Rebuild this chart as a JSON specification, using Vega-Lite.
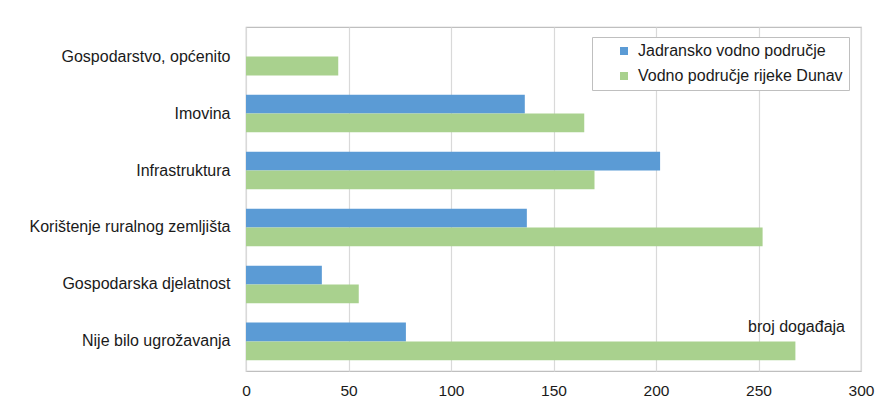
{
  "$schema": "https://vega.github.io/schema/vega-lite/v6.json",
  "width": 615,
  "height": 344,
  "autosize": {"type": "none"},
  "padding": {"left": 246, "top": 27, "right": 24, "bottom": 42},
  "background": "white",
  "config": {
    "font": "Liberation Sans",
    "view": {"stroke": "#bfbfbf", "strokeWidth": 1.2}
  },
  "data": {
    "values": [
      {"kategorija": "Gospodarstvo, općenito", "podrucje": "Vodno područje rijeke Dunav", "broj": 45},
      {"kategorija": "Imovina", "podrucje": "Jadransko vodno područje", "broj": 136},
      {"kategorija": "Imovina", "podrucje": "Vodno područje rijeke Dunav", "broj": 165},
      {"kategorija": "Infrastruktura", "podrucje": "Jadransko vodno područje", "broj": 202},
      {"kategorija": "Infrastruktura", "podrucje": "Vodno područje rijeke Dunav", "broj": 170},
      {"kategorija": "Korištenje ruralnog zemljišta", "podrucje": "Jadransko vodno područje", "broj": 137},
      {"kategorija": "Korištenje ruralnog zemljišta", "podrucje": "Vodno područje rijeke Dunav", "broj": 252},
      {"kategorija": "Gospodarska djelatnost", "podrucje": "Jadransko vodno područje", "broj": 37},
      {"kategorija": "Gospodarska djelatnost", "podrucje": "Vodno područje rijeke Dunav", "broj": 55},
      {"kategorija": "Nije bilo ugrožavanja", "podrucje": "Jadransko vodno područje", "broj": 78},
      {"kategorija": "Nije bilo ugrožavanja", "podrucje": "Vodno područje rijeke Dunav", "broj": 268}
    ]
  },
  "mark": {"type": "bar"},
  "encoding": {
    "y": {
      "field": "kategorija",
      "type": "nominal",
      "sort": ["Gospodarstvo, općenito", "Imovina", "Infrastruktura", "Korištenje ruralnog zemljišta", "Gospodarska djelatnost", "Nije bilo ugrožavanja"],
      "scale": {"paddingInner": 0.34, "paddingOuter": 0.19},
      "axis": {
        "title": null,
        "ticks": false,
        "domain": false,
        "labelFontSize": 16,
        "labelColor": "#1a1a1a",
        "labelPadding": 16,
        "labelLimit": 300
      }
    },
    "yOffset": {
      "field": "podrucje",
      "type": "nominal",
      "scale": {"domain": ["Jadransko vodno područje", "Vodno područje rijeke Dunav"]}
    },
    "x": {
      "field": "broj",
      "type": "quantitative",
      "scale": {"domain": [0, 300], "nice": false},
      "axis": {
        "title": "broj događaja",
        "titleX": 550,
        "titleY": -45,
        "titleAlign": "center",
        "titleBaseline": "middle",
        "titleFontSize": 16,
        "titleFontWeight": "normal",
        "titleColor": "#1a1a1a",
        "values": [0, 50, 100, 150, 200, 250, 300],
        "ticks": false,
        "domain": false,
        "grid": true,
        "gridColor": "#d9d9d9",
        "gridWidth": 1.2,
        "labelFontSize": 15.5,
        "labelColor": "#1a1a1a",
        "labelPadding": 12,
        "labelFlush": false
      }
    },
    "color": {
      "field": "podrucje",
      "type": "nominal",
      "scale": {
        "domain": ["Jadransko vodno područje", "Vodno područje rijeke Dunav"],
        "range": ["#5b9bd5", "#a9d18e"]
      },
      "legend": {
        "title": null,
        "orient": "none",
        "legendX": 346,
        "legendY": 10,
        "symbolType": "square",
        "symbolSize": 64,
        "symbolStrokeWidth": 0,
        "symbolOffset": 18,
        "labelFontSize": 16,
        "labelColor": "#1a1a1a",
        "labelOffset": 6,
        "labelLimit": 400,
        "rowPadding": 9,
        "padding": 6,
        "fillColor": "white",
        "strokeColor": "#bfbfbf",
        "cornerRadius": 0
      }
    }
  }
}
